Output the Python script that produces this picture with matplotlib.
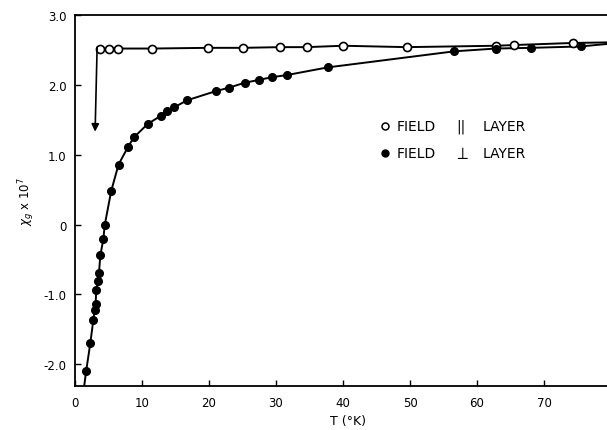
import matplotlib.pyplot as plt
import numpy as np

# field parallel to layer (open circles)
T_par = [3.78, 5.03, 6.37, 11.45, 19.8, 25.1, 30.6, 34.6, 40.0, 49.5, 62.9, 65.5, 74.4]
chi_par = [2.52, 2.52, 2.52, 2.52, 2.53, 2.53, 2.54, 2.54, 2.56, 2.54, 2.56, 2.57, 2.60]

# field perpendicular to layer (filled circles)
T_perp = [1.66, 2.28, 2.73, 2.93, 3.08, 3.17, 3.43, 3.58, 3.78, 4.23, 4.43, 5.4, 6.5,
          7.9, 8.8, 10.85, 12.84, 13.75, 14.82, 16.75, 21.0, 23.0, 25.3, 27.4, 29.4,
          31.6, 37.7, 56.6, 62.8, 68.1, 75.5]
chi_perp = [-2.10, -1.70, -1.37, -1.22, -1.13, -0.94, -0.81, -0.69, -0.44, -0.21, -0.01,
            0.48, 0.86, 1.11, 1.25, 1.44, 1.56, 1.63, 1.68, 1.78, 1.91, 1.96, 2.03, 2.07,
            2.11, 2.14, 2.25, 2.48, 2.52, 2.53, 2.55]

# where the drawn curves run off the plot
perp_low_end = (1.25, -2.40)
par_right_end = (81.0, 2.61)
perp_right_end = (81.0, 2.60)

# arrow drawn from the start of the parallel curve
arrow_top = (3.3, 2.53)
arrow_tip = (3.0, 1.33)

xticks = [0, 10, 20, 30, 40, 50, 60, 70]
yticks = [-2, -1, 0, 1, 2, 3]
ytick_labels = ['-2.0', '-1.0', '0', '1.0', '2.0', '3.0']

plt.rcParams['font.family'] = 'DejaVu Sans'

W, H = 607, 431
fig = plt.figure(figsize=(W/100, H/100), dpi=100)
# axes run past the right edge of the picture (figure is cropped)
ax = fig.add_axes([75/W, 1 - 387/H, 90*6.7/W, (387-16)/H])
ax.set_xlim(0, 90)
ax.set_ylim(-2.31, 3.0)

lw = 1.4
# parallel curve
xp = [arrow_top[0]] + T_par + [par_right_end[0]]
yp = [arrow_top[1]] + chi_par + [par_right_end[1]]
ax.plot(xp, yp, '-', color='black', lw=lw, zorder=2)
ax.plot(T_par, chi_par, 'o', ms=5.8, mfc='white', mec='black', mew=1.2, zorder=3)

# perpendicular curve
xq = [perp_low_end[0]] + T_perp + [perp_right_end[0]]
yq = [perp_low_end[1]] + chi_perp + [perp_right_end[1]]
ax.plot(xq, yq, '-', color='black', lw=lw, zorder=2)
ax.plot(T_perp, chi_perp, 'o', ms=5.5, color='black', zorder=3)

ax.annotate('', xy=arrow_tip, xytext=arrow_top,
            arrowprops=dict(arrowstyle='-|>', color='black', lw=1.2,
                            mutation_scale=11, shrinkA=0, shrinkB=0))

ax.set_xticks(xticks)
ax.set_xticklabels([str(t) for t in xticks])
ax.set_yticks(yticks)
ax.set_yticklabels(ytick_labels)
ax.tick_params(direction='in', length=4, width=1, labelsize=8.5, color='black')
ax.tick_params(axis='x', pad=7)
ax.tick_params(axis='y', pad=6)
for s in ax.spines.values():
    s.set_linewidth(1.3)
ax.spines['right'].set_visible(False)

ax.set_xlabel('T (°K)', fontsize=9)
ax.xaxis.set_label_coords((348-75)/(90*6.7), -0.075)
ax.set_ylabel(r'$\chi_g$ x 10$^7$', fontsize=8.5)
ax.yaxis.set_label_coords(-38/(90*6.7), 0.5)

# legend, drawn by hand
leg_rows = [(126.7, dict(mfc='white', mec='black', mew=1.1), '||'),
            (154.0, dict(mfc='black', mec='black'), r'$\perp$')]
for y, mk, sym in leg_rows:
    yf = 1 - y/H
    fig.lines.append(plt.Line2D([385/W], [yf], ls='none', marker='o', ms=5,
                                transform=fig.transFigure, **mk))
    fig.text(397/W, yf, 'FIELD', fontsize=10, va='center', ha='left')
    fig.text(461/W, yf, sym, fontsize=12 if sym != '||' else 10, va='center', ha='center')
    fig.text(483/W, yf, 'LAYER', fontsize=10, va='center', ha='left')

fig.savefig('out.png', dpi=100)
